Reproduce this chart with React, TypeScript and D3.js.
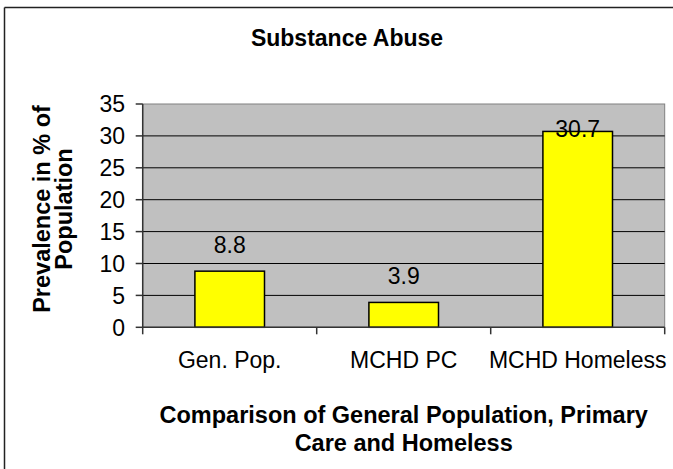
import React from "react";
import * as d3 from "d3";

const categories = ["Gen. Pop.", "MCHD PC", "MCHD Homeless"];
const values = [8.8, 3.9, 30.7];
const yTicks = [0, 5, 10, 15, 20, 25, 30, 35];

const W = 673;
const H = 469;
const plot = { left: 142.7, right: 664.7, top: 104, bottom: 327.3 };
const font = "'Liberation Sans', Arial, sans-serif";

const App = () => {
  const x = d3
    .scaleBand<string>()
    .domain(categories)
    .range([plot.left, plot.right]);
  const y = d3.scaleLinear().domain([0, 35]).range([plot.bottom, plot.top]);
  const barW = x.bandwidth() * 0.4;
  const bounds = categories.map((c) => x(c) as number).concat([plot.right]);
  const plotMid = (plot.left + plot.right) / 2;

  return (
    <svg
      width={W}
      height={H}
      style={{ position: "absolute", left: 0, top: 0, background: "#fff", overflow: "hidden" }}
      fontFamily={font}
    >
      {/* chart frame, cut off at the right and bottom */}
      <line x1={4.5} x2={W} y1={7.5} y2={7.5} stroke="#222" strokeWidth={1.5} />
      <line x1={4.5} x2={4.5} y1={7.5} y2={H} stroke="#222" strokeWidth={1.5} />

      <text x={347} y={46} textAnchor="middle" fontWeight="bold" fontSize={23}>
        Substance Abuse
      </text>

      {/* plot area */}
      <rect
        x={plot.left}
        y={plot.top}
        width={plot.right - plot.left}
        height={plot.bottom - plot.top}
        fill="#c0c0c0"
        stroke="#808080"
        strokeWidth={1}
      />
      {yTicks.slice(1, -1).map((t) => (
        <line key={t} x1={plot.left} x2={plot.right} y1={y(t)} y2={y(t)} stroke="#000" strokeWidth={1} />
      ))}

      {categories.map((c, i) => {
        const cx = (x(c) as number) + x.bandwidth() / 2;
        const v = values[i];
        const natural = y(v) - 18;
        const ly = natural - 16 < plot.top ? y(v) + 6 : natural;
        return (
          <g key={c}>
            <rect
              x={cx - barW / 2}
              y={y(v)}
              width={barW}
              height={plot.bottom - y(v)}
              fill="#ffff00"
              stroke="#000"
              strokeWidth={1.5}
            />
            <text x={cx} y={ly} textAnchor="middle" fontSize={23}>
              {v.toFixed(1)}
            </text>
            <text x={cx} y={368} textAnchor="middle" fontSize={23}>
              {c}
            </text>
          </g>
        );
      })}

      {/* axes */}
      <line x1={plot.left} x2={plot.left} y1={plot.top} y2={plot.bottom} stroke="#333" strokeWidth={1.5} />
      <line x1={plot.left} x2={plot.right} y1={plot.bottom} y2={plot.bottom} stroke="#333" strokeWidth={1.5} />
      {yTicks.map((t) => (
        <g key={t}>
          <line x1={plot.left - 7} x2={plot.left} y1={y(t)} y2={y(t)} stroke="#333" strokeWidth={1.5} />
          <text x={125} y={y(t)} dy="0.36em" textAnchor="end" fontSize={23}>
            {t}
          </text>
        </g>
      ))}
      {bounds.map((b, i) => (
        <line key={i} x1={b} x2={b} y1={plot.bottom} y2={plot.bottom + 7} stroke="#333" strokeWidth={1.5} />
      ))}

      <text x={plotMid} y={423} textAnchor="middle" fontWeight="bold" fontSize={23.5}>
        Comparison of General Population, Primary
      </text>
      <text x={plotMid} y={451} textAnchor="middle" fontWeight="bold" fontSize={23.5}>
        Care and Homeless
      </text>

      <g transform="translate(0,209) rotate(-90)">
        <text x={0} y={50} textAnchor="middle" fontWeight="bold" fontSize={23.5}>
          Prevalence in % of
        </text>
        <text x={0} y={72} textAnchor="middle" fontWeight="bold" fontSize={23.5}>
          Population
        </text>
      </g>
    </svg>
  );
};

export default App;
